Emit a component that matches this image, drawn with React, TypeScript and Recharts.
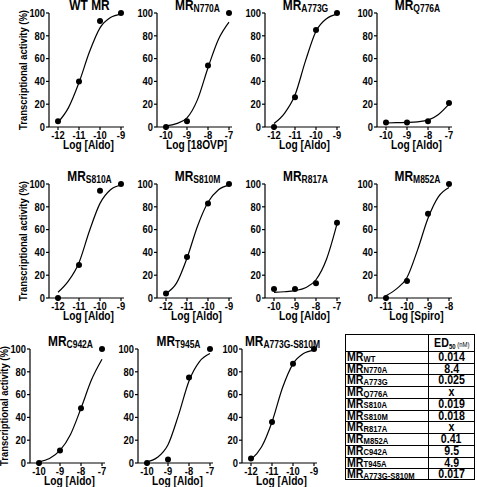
import React from "react";
import { ComposedChart, Line, Scatter, XAxis, YAxis } from "recharts";

const FONT = "'Liberation Sans', Arial, sans-serif";
const SQUEEZE = 0.85; // figure text is horizontally compressed

// measured points (log M, % activity)
const wtPts = [{ x: -12, y: 5 }, { x: -11, y: 40 }, { x: -10, y: 93 }, { x: -9, y: 100 }];
const n770aPts = [{ x: -10, y: 0 }, { x: -9, y: 5 }, { x: -8, y: 54 }, { x: -7, y: 100 }];
const a773gPts = [{ x: -12, y: 0 }, { x: -11, y: 26 }, { x: -10, y: 85 }, { x: -9, y: 100 }];
const q776aPts = [{ x: -10, y: 4 }, { x: -9, y: 4 }, { x: -8, y: 5 }, { x: -7, y: 21 }];
const s810aPts = [{ x: -12, y: 0 }, { x: -11, y: 29 }, { x: -10, y: 94 }, { x: -9, y: 100 }];
const s810mPts = [{ x: -12, y: 4 }, { x: -11, y: 36 }, { x: -10, y: 83 }, { x: -9, y: 100 }];
const r817aPts = [{ x: -10, y: 8 }, { x: -9, y: 8 }, { x: -8, y: 13 }, { x: -7, y: 66 }];
const m852aPts = [{ x: -11, y: 0 }, { x: -10, y: 15 }, { x: -9, y: 74 }, { x: -8, y: 100 }];
const c942aPts = [{ x: -10, y: 0 }, { x: -9, y: 11 }, { x: -8, y: 48 }, { x: -7, y: 100 }];
const t945aPts = [{ x: -10, y: 0 }, { x: -9, y: 3 }, { x: -8, y: 75 }, { x: -7, y: 100 }];
const dblPts = [{ x: -12, y: 4 }, { x: -11, y: 36 }, { x: -10, y: 87 }, { x: -9, y: 100 }];

// fitted curves
const wtFit = [{ x: -12, y: 4 }, { x: -11.5, y: 17 }, { x: -11, y: 39 }, { x: -10.5, y: 66 }, { x: -10, y: 87 }, { x: -9.5, y: 96 }, { x: -9, y: 99 }];
const n770aFit = [{ x: -10, y: 1 }, { x: -9.5, y: 3 }, { x: -9, y: 8 }, { x: -8.5, y: 24 }, { x: -8, y: 52 }, { x: -7.5, y: 77 }, { x: -7, y: 92 }];
const a773gFit = [{ x: -12, y: 3 }, { x: -11.5, y: 12 }, { x: -11, y: 28 }, { x: -10.5, y: 58 }, { x: -10, y: 84 }, { x: -9.5, y: 95 }, { x: -9, y: 99 }];
const q776aFit = [{ x: -10, y: 3.5 }, { x: -9.5, y: 3.8 }, { x: -9, y: 4 }, { x: -8.5, y: 4.5 }, { x: -8, y: 6 }, { x: -7.5, y: 11 }, { x: -7, y: 20 }];
const s810aFit = [{ x: -12, y: 5 }, { x: -11.5, y: 15 }, { x: -11, y: 31 }, { x: -10.5, y: 59 }, { x: -10, y: 83 }, { x: -9.5, y: 95 }, { x: -9, y: 99 }];
const s810mFit = [{ x: -12, y: 4 }, { x: -11.5, y: 13 }, { x: -11, y: 35 }, { x: -10.5, y: 63 }, { x: -10, y: 84 }, { x: -9.5, y: 95 }, { x: -9, y: 99 }];
const r817aFit = [{ x: -10, y: 5 }, { x: -9.5, y: 5.5 }, { x: -9, y: 6.5 }, { x: -8.5, y: 9 }, { x: -8, y: 16 }, { x: -7.5, y: 34 }, { x: -7, y: 65 }];
const m852aFit = [{ x: -11, y: 2 }, { x: -10.5, y: 8 }, { x: -10, y: 18 }, { x: -9.5, y: 42 }, { x: -9, y: 70 }, { x: -8.5, y: 89 }, { x: -8, y: 97 }];
const c942aFit = [{ x: -10, y: 1 }, { x: -9.5, y: 4 }, { x: -9, y: 11 }, { x: -8.5, y: 25 }, { x: -8, y: 48 }, { x: -7.5, y: 73 }, { x: -7, y: 91 }];
const t945aFit = [{ x: -10, y: 1 }, { x: -9.5, y: 5 }, { x: -9, y: 16 }, { x: -8.5, y: 42 }, { x: -8, y: 72 }, { x: -7.5, y: 89 }, { x: -7, y: 96 }];
const dblFit = [{ x: -12, y: 3 }, { x: -11.5, y: 14 }, { x: -11, y: 36 }, { x: -10.5, y: 66 }, { x: -10, y: 87 }, { x: -9.5, y: 96 }, { x: -9, y: 99 }];

const ticks12 = [-12, -11, -10, -9];
const ticks10 = [-10, -9, -8, -7];
const ticks11 = [-11, -10, -9, -8];
const yTicks = [0, 20, 40, 60, 80, 100];

// ED50 table
const tableNames = ["WT", "N770A", "A773G", "Q776A", "S810A", "S810M", "R817A", "M852A", "C942A", "T945A", "A773G-S810M"];
const tableValues = ["0.014", "8.4", "0.025", "x", "0.019", "0.018", "x", "0.41", "9.5", "4.9", "0.017"];

const panels = [
  { axisX: 49, top: 13, title: "WT MR", sub: "", xLabel: "Log [Aldo]", ticks: ticks12, pts: wtPts, fit: wtFit, yLabel: true },
  { axisX: 157, top: 13, title: "MR", sub: "N770A", xLabel: "Log [18OVP]", ticks: ticks10, pts: n770aPts, fit: n770aFit },
  { axisX: 265, top: 13, title: "MR", sub: "A773G", xLabel: "Log [Aldo]", ticks: ticks12, pts: a773gPts, fit: a773gFit },
  { axisX: 377, top: 13, title: "MR", sub: "Q776A", xLabel: "Log [Aldo]", ticks: ticks10, pts: q776aPts, fit: q776aFit },
  { axisX: 49, top: 184, title: "MR", sub: "S810A", xLabel: "Log [Aldo]", ticks: ticks12, pts: s810aPts, fit: s810aFit, yLabel: true },
  { axisX: 157, top: 184, title: "MR", sub: "S810M", xLabel: "Log [Aldo]", ticks: ticks12, pts: s810mPts, fit: s810mFit },
  { axisX: 265, top: 184, title: "MR", sub: "R817A", xLabel: "Log [Aldo]", ticks: ticks10, pts: r817aPts, fit: r817aFit },
  { axisX: 377, top: 184, title: "MR", sub: "M852A", xLabel: "Log [Spiro]", ticks: ticks11, pts: m852aPts, fit: m852aFit },
  { axisX: 30, top: 349, title: "MR", sub: "C942A", xLabel: "Log [Aldo]", ticks: ticks10, pts: c942aPts, fit: c942aFit, yLabel: true },
  { axisX: 138, top: 349, title: "MR", sub: "T945A", xLabel: "Log [Aldo]", ticks: ticks10, pts: t945aPts, fit: t945aFit },
  { axisX: 242, top: 349, title: "MR", sub: "A773G-S810M", xLabel: "Log [Aldo]", ticks: ticks12, pts: dblPts, fit: dblFit },
];

const YW = 30;
const MT = 6;
const XH = 18;
const PLOT_H = 114;
const PAD_L = 9;
const PAD_R = 3;
const DATA_W = 63;
const MR_ = 6;

const Dot = (p: any) => <circle cx={p.cx} cy={p.cy} r={3} fill="#000" />;

const XTick = (p: any) => (
  <text
    transform={`translate(${p.x},${p.y}) scale(${SQUEEZE},1)`}
    textAnchor="middle"
    dy="0.71em"
    fontSize={11}
    fontWeight="bold"
    fontFamily={FONT}
    fill="#000"
  >
    {p.payload.value}
  </text>
);

const YTick = (p: any) => (
  <text
    transform={`translate(${p.x},${p.y}) scale(${SQUEEZE},1)`}
    textAnchor="end"
    dy="0.35em"
    fontSize={11}
    fontWeight="bold"
    fontFamily={FONT}
    fill="#000"
  >
    {p.payload.value}
  </text>
);

function Panel({ p }: { p: (typeof panels)[number] }) {
  const w = YW + PAD_L + DATA_W + PAD_R + MR_;
  const h = MT + PLOT_H + XH;
  return (
    <div style={{ position: "absolute", left: p.axisX - YW, top: p.top - MT }}>
      <ComposedChart width={w} height={h} margin={{ top: MT, right: MR_, left: 0, bottom: 0 }}>
        <XAxis
          type="number"
          dataKey="x"
          domain={[p.ticks[0], p.ticks[3]]}
          ticks={p.ticks}
          interval={0}
          padding={{ left: PAD_L, right: PAD_R }}
          height={XH}
          tickSize={3}
          tickMargin={1}
          tick={<XTick />}
          axisLine={{ stroke: "#000", strokeWidth: 1.2 }}
          tickLine={{ stroke: "#000", strokeWidth: 1.2 }}
        />
        <YAxis
          type="number"
          domain={[0, 100]}
          ticks={yTicks}
          interval={0}
          width={YW}
          tickSize={3}
          tickMargin={1}
          tick={<YTick />}
          axisLine={{ stroke: "#000", strokeWidth: 1.2 }}
          tickLine={{ stroke: "#000", strokeWidth: 1.2 }}
        />
        <Line data={p.fit} dataKey="y" type="monotone" stroke="#000" strokeWidth={1.2} dot={false} isAnimationActive={false} />
        <Scatter data={p.pts} dataKey="y" shape={Dot} isAnimationActive={false} />
      </ComposedChart>
    </div>
  );
}

// titles and axis titles
function Labels() {
  return (
    <svg width={477} height={487} style={{ position: "absolute", left: 0, top: 0, pointerEvents: "none" }}>
      {panels.map((p, i) => {
        const cx = p.axisX + PAD_L + DATA_W / 2;
        const bottom = p.top + PLOT_H;
        return (
          <g key={i} fontFamily={FONT} fontWeight="bold" fill="#000">
            <text transform={`translate(${cx},${p.top - 3}) scale(${SQUEEZE},1)`} textAnchor="middle" fontSize={14}>
              {p.title}
              {p.sub && (
                <tspan fontSize={10} dy={2}>
                  {p.sub}
                </tspan>
              )}
            </text>
            <text transform={`translate(${cx - 1},${bottom + 22}) scale(${SQUEEZE},1)`} textAnchor="middle" fontSize={12}>
              {p.xLabel}
            </text>
            {p.yLabel && (
              <text
                transform={`translate(${p.axisX - 22},${p.top + 57}) rotate(-90)`}
                textAnchor="middle"
                fontSize={11.5}
                textLength={120}
                lengthAdjust="spacingAndGlyphs"
              >
                Transcriptional activity (%)
              </text>
            )}
          </g>
        );
      })}
    </svg>
  );
}

function Ed50Table() {
  const left = 345;
  const top = 334;
  const width = 130;
  const headH = 17;
  const rowH = 11.73;
  const col = 83;
  const sq = { display: "inline-block", transform: `scaleX(${SQUEEZE})`, transformOrigin: "left bottom", whiteSpace: "nowrap" } as const;
  const height = headH + rowH * tableNames.length;
  return (
    <div style={{ position: "absolute", left, top, width, height, fontFamily: FONT, fontWeight: "bold", color: "#000" }}>
      {/* grid lines */}
      <div style={{ position: "absolute", left: 0, top: 0, width, height, border: "1px solid #000", boxSizing: "border-box" }} />
      <div style={{ position: "absolute", left: col, top: 0, height, width: 1, background: "#000" }} />
      {tableNames.map((n, i) => (
        <div key={"l" + n} style={{ position: "absolute", left: 0, width, top: headH + i * rowH, height: 1, background: "#000" }} />
      ))}
      {/* header */}
      <div style={{ position: "absolute", left: col, width: width - col, top: 2, height: headH - 2, textAlign: "center", fontSize: 12.5, lineHeight: "14px" }}>
        <span style={{ ...sq, transformOrigin: "center bottom" }}>
          ED<span style={{ fontSize: 7, position: "relative", top: 2 }}>50</span>
          <span style={{ fontSize: 7, fontWeight: "normal" }}> (nM)</span>
        </span>
      </div>
      {/* rows */}
      {tableNames.map((n, i) => {
        const y = headH + i * rowH + 1;
        return (
          <React.Fragment key={n}>
            <div style={{ position: "absolute", left: 2, top: y, height: rowH - 1, lineHeight: `${rowH - 1}px`, fontSize: 12.5 }}>
              <span style={sq}>
                MR<span style={{ fontSize: 9, position: "relative", top: 0.5 }}>{n}</span>
              </span>
            </div>
            <div
              style={{
                position: "absolute",
                left: col,
                width: width - col,
                top: y,
                height: rowH - 1,
                lineHeight: `${rowH - 1}px`,
                fontSize: 12.5,
                textAlign: "center",
              }}
            >
              <span style={{ ...sq, transformOrigin: "center bottom" }}>{tableValues[i]}</span>
            </div>
          </React.Fragment>
        );
      })}
    </div>
  );
}

export default function App() {
  return (
    <div style={{ position: "absolute", left: 0, top: 0, width: 477, height: 487, background: "#fff", overflow: "hidden" }}>
      {panels.map((p, i) => (
        <Panel key={i} p={p} />
      ))}
      <Labels />
      <Ed50Table />
    </div>
  );
}
